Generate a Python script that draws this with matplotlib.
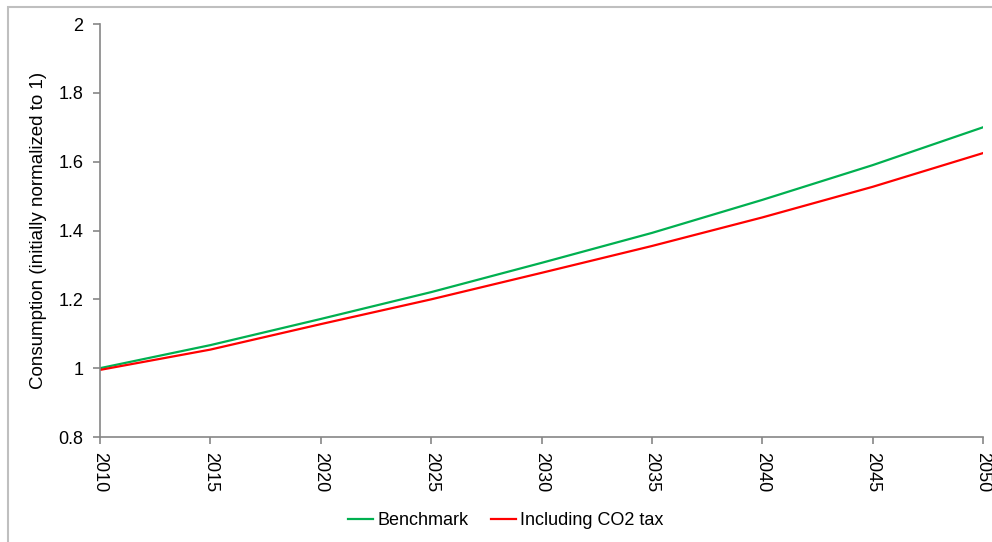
import matplotlib.pyplot as plt
from matplotlib.patches import Rectangle

plt.rcParams['font.family'] = ['Liberation Sans', 'DejaVu Sans']

years = [2010, 2015, 2020, 2025, 2030, 2035, 2040, 2045, 2050]
benchmark = [1.000, 1.067, 1.143, 1.221, 1.306, 1.393, 1.489, 1.590, 1.700]
co2_tax = [0.995, 1.054, 1.128, 1.200, 1.277, 1.355, 1.438, 1.527, 1.625]

fig = plt.figure(figsize=(9.92, 5.42), dpi=100)
ax = fig.add_axes([0.1008, 0.1937, 0.8902, 0.762])

# outer chart frame (Excel style)
fig.patches.append(Rectangle((8/992, -0.1), 1.2, 1 - 7/542 + 0.1, transform=fig.transFigure,
                             fill=False, edgecolor='#bfbfbf', linewidth=1.5))

ax.plot(years, benchmark, color='#00b050', lw=1.6, label='Benchmark')
ax.plot(years, co2_tax, color='#ff0000', lw=1.6, label='Including CO2 tax')

ax.set_xlim(2010, 2050)
ax.set_ylim(0.8, 2.0)
ax.set_xticks(range(2010, 2051, 5))
ax.set_yticks([0.8, 1.0, 1.2, 1.4, 1.6, 1.8, 2.0])
ax.set_yticklabels(['0.8', '1', '1.2', '1.4', '1.6', '1.8', '2'])
for lbl in ax.get_xticklabels():
    lbl.set_rotation(270)

for s in ['top', 'right']:
    ax.spines[s].set_visible(False)
for s in ['left', 'bottom']:
    ax.spines[s].set_color('#868686')
    ax.spines[s].set_linewidth(1.2)
ax.tick_params(colors='#868686', labelcolor='black', labelsize=13, length=5, width=1.2)
ax.tick_params(axis='x', pad=6)
ax.tick_params(axis='y', pad=7)

ax.set_ylabel('Consumption (initially normalized to 1)', fontsize=13.5, labelpad=8)

fig.legend(loc='center', bbox_to_anchor=(0.51, 0.04), ncol=2, frameon=False,
           fontsize=13, handlelength=1.4, handletextpad=0.25, columnspacing=1.2)

fig.savefig('out.png', dpi=100)
